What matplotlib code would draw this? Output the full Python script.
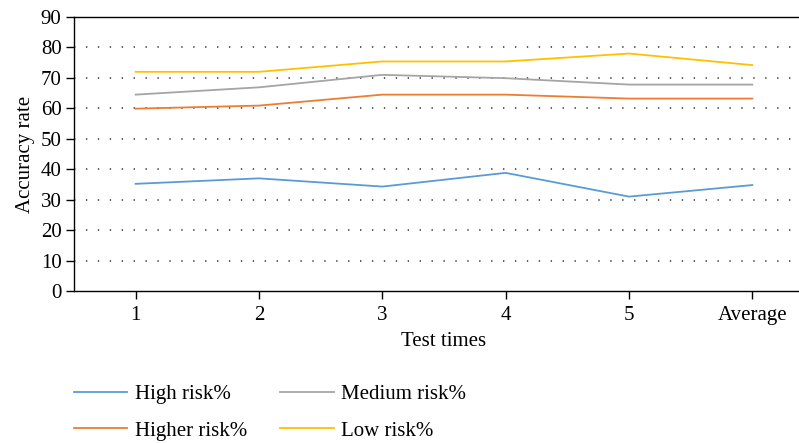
"""
Accuracy rate per risk level across test runs.
"""
import matplotlib.pyplot as plt

plt.rcParams["font.family"] = ["Liberation Serif", "DejaVu Serif"]

# Data
test_labels = ["1", "2", "3", "4", "5", "Average"]
high_risk = [35.2, 37.0, 34.3, 38.8, 31.0, 34.8]
higher_risk = [59.9, 60.9, 64.5, 64.5, 63.2, 63.2]
medium_risk = [64.5, 66.9, 71.0, 69.9, 67.8, 67.8]
low_risk = [72.0, 72.0, 75.4, 75.4, 78.0, 74.2]
y_ticks = list(range(0, 91, 10))


def plot_accuracy():
    fig = plt.figure(figsize=(7.99, 4.43), dpi=100)
    # axes runs past the right edge, as in the cropped original
    ax = fig.add_axes([74 / 799, 152 / 443, 740 / 799, 274 / 443])

    x = range(len(test_labels))
    lh, = ax.plot(x, high_risk, color="#5B9BD5", lw=1.3, label="High risk%")
    lhr, = ax.plot(x, higher_risk, color="#ED7D31", lw=1.3, label="Higher risk%")
    lm, = ax.plot(x, medium_risk, color="#A5A5A5", lw=1.3, label="Medium risk%")
    ll, = ax.plot(x, low_risk, color="#FFC000", lw=1.3, label="Low risk%")

    ax.set_xlim(-0.5, 5.5)
    ax.set_ylim(0, 90)
    ax.set_yticks(y_ticks)
    ax.set_xticks(list(x))
    ax.set_xticklabels(test_labels)
    ax.tick_params(labelsize=15, length=6, width=1, color="black", pad=3)
    ax.tick_params(axis="x", pad=5)

    for y in y_ticks[1:-1]:
        ax.axhline(y, color="#333333", lw=1.1, dashes=(0.9, 6.9), zorder=0)

    ax.spines["right"].set_visible(False)
    for side in ["left", "bottom", "top"]:
        ax.spines[side].set_linewidth(1.0)
        ax.spines[side].set_color("black")

    ax.set_xlabel("Test times", fontsize=15, labelpad=5)
    ax.set_ylabel("Accuracy rate", fontsize=15, labelpad=4)

    fig.legend(
        handles=[lh, lhr, lm, ll],
        ncol=2,
        loc="upper left",
        bbox_to_anchor=(55 / 799, 1 - 366 / 443),
        frameon=False,
        fontsize=15,
        handlelength=2.55,
        handletextpad=0.38,
        columnspacing=1.6,
        labelspacing=0.8,
    )

    fig.savefig("out.png", dpi=100)


if __name__ == "__main__":
    plot_accuracy()
